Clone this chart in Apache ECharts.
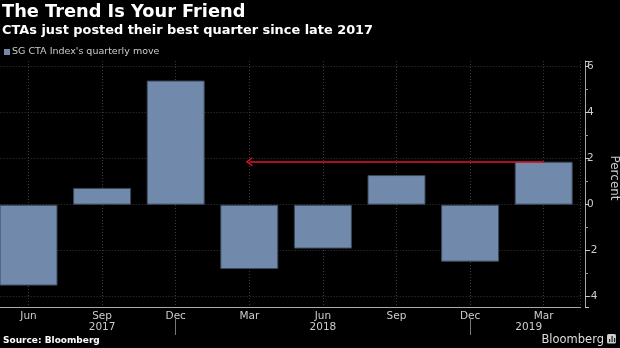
<!DOCTYPE html>
<html>
<head>
<meta charset="utf-8">
<script src="https://cdn.jsdelivr.net/npm/echarts@6/dist/echarts.min.js"></script>
<style>
html,body{margin:0;padding:0;background:#000;}
#c{width:620px;height:348px;}
</style>
</head>
<body>
<div id="c"></div>
<script>
const categories = ['Jun', 'Sep', 'Dec', 'Mar', 'Jun', 'Sep', 'Dec', 'Mar'];
const yearLabels = ['', '2017', '', '', '2018', '', '', '2019'];
const values = [-3.52, 0.73, 5.40, -2.80, -1.91, 1.29, -2.48, 1.87];
const seriesName = "SG CTA Index's quarterly move";
const arrowFromIndex = 3;
const arrowToIndex = 7;
const arrowValue = 1.87;

const FONT = '"DejaVu Sans", Verdana, sans-serif';
const chevron = 'path://M5,0 L10,7.5 L9,8.6 L5,2.6 L1,8.6 L0,7.5 Z';

const chart = echarts.init(document.getElementById('c'));
chart.setOption({
  backgroundColor: '#000',
  animation: false,
  title: [
    {text: 'The Trend Is Your Friend', left: 2, top: 3, padding: 0,
     textStyle: {color: '#fff', fontSize: 17.8, fontWeight: 'bold', fontFamily: FONT}},
    {text: 'CTAs just posted their best quarter since late 2017', left: 2, top: 24, padding: 0,
     textStyle: {color: '#fff', fontSize: 12.9, fontWeight: 'bold', fontFamily: FONT}},
    {text: 'Source: Bloomberg', left: 3, top: 336, padding: 0,
     textStyle: {color: '#fff', fontSize: 9, fontWeight: 'bold', fontFamily: FONT}}
  ],
  legend: {
    data: [seriesName], left: 4, top: 47, padding: 0,
    icon: 'rect', itemWidth: 6, itemHeight: 6, itemGap: 2,
    itemStyle: {borderWidth: 0},
    textStyle: {color: '#ccc', fontSize: 9.5, fontFamily: FONT, padding: [0, 0, 0, -3]}
  },
  grid: {left: -8.3, right: 39.5, top: 61, bottom: 41, containLabel: false, outerBoundsMode: 'none'},
  xAxis: [
    {type: 'category', data: categories, position: 'bottom',
     axisLine: {show: true, onZero: false, lineStyle: {color: '#aaa', width: 1}},
     axisTick: {show: false},
     axisLabel: {color: '#ccc', fontSize: 10.5, fontFamily: FONT, margin: 4, interval: 0},
     splitLine: {show: false}},
    {type: 'category', data: categories, position: 'bottom', offset: 12,
     axisLine: {show: false, onZero: false},
     axisTick: {show: true, alignWithLabel: true, length: 16,
       interval: function (i) { return i === 2 || i === 6; },
       lineStyle: {color: '#777', width: 1}},
     axisLabel: {color: '#ccc', fontSize: 10.5, fontFamily: FONT, margin: 3, interval: 0,
       formatter: function (v, i) { return i === 7 ? '{s|' + yearLabels[i] + '}' : yearLabels[i]; },
       rich: {s: {color: '#ccc', fontSize: 10.5, fontFamily: FONT, padding: [0, 30, 0, 0]}}},
     splitLine: {show: false}},
    {type: 'category', data: categories.concat(categories), position: 'top', show: true,
     axisLine: {show: false, onZero: false}, axisTick: {show: false}, axisLabel: {show: false},
     splitLine: {show: true, interval: function (i) { return i % 2 === 1; },
       lineStyle: {color: '#3a3a3a', type: [1, 2], width: 1}}}
  ],
  yAxis: {
    type: 'value', position: 'right', offset: 4.5,
    min: -4.45, max: 6.25, splitNumber: 5,
    name: 'Percent', nameLocation: 'middle', nameRotate: -90, nameGap: 16,
    nameTextStyle: {color: '#ccc', fontSize: 12, fontFamily: FONT, padding: [0, 12, 0, 0]},
    axisLine: {show: true, onZero: false, lineStyle: {color: '#aaa', width: 1}},
    axisTick: {show: true, length: 4, lineStyle: {color: '#ccc'}},
    minorTick: {show: true, splitNumber: 2, length: 3, lineStyle: {color: '#999'}},
    axisLabel: {color: '#ccc', fontSize: 10.5, fontFamily: FONT, margin: 2,
      showMinLabel: false, showMaxLabel: false},
    splitLine: {show: true, showMinLine: false, showMaxLine: false,
      lineStyle: {color: '#3a3a3a', type: [1, 2], width: 1}}
  },
  series: [{
    name: seriesName, type: 'bar', xAxisIndex: 0, data: values, barWidth: 58,
    itemStyle: {color: '#7189ab', borderColor: '#3b4758', borderWidth: 1},
    markLine: {
      silent: true, symbol: [chevron, 'none'], symbolSize: [9, 7],
      label: {show: false},
      lineStyle: {color: '#e3152b', width: 1.5, type: 'solid'},
      emphasis: {disabled: true},
      data: [[{coord: [arrowFromIndex, arrowValue]}, {coord: [arrowToIndex, arrowValue]}]]
    }
  }],
  graphic: [
    {type: 'text', right: 16, top: 334,
     style: {text: 'Bloomberg', fill: '#ddd', fontSize: 11.5, fontFamily: FONT}},
    {type: 'rect', left: 607, top: 334, shape: {width: 9, height: 9.5, r: 1.5},
     style: {fill: '#ccc'}},
    {type: 'rect', left: 609, top: 339, shape: {width: 1.2, height: 3}, style: {fill: '#222'}},
    {type: 'rect', left: 611.5, top: 336, shape: {width: 1.2, height: 6}, style: {fill: '#222'}},
    {type: 'rect', left: 614, top: 338, shape: {width: 1.2, height: 4}, style: {fill: '#222'}}
  ]
});
</script>
</body>
</html>
